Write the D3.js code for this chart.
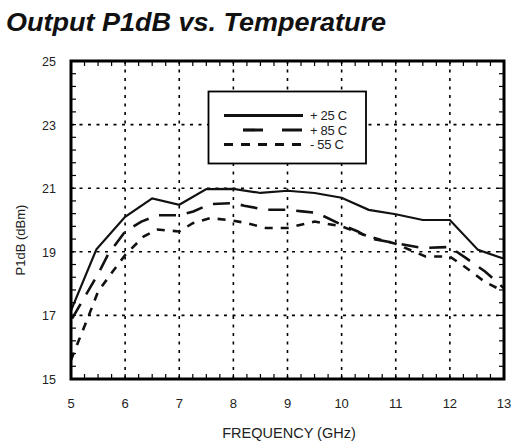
<!DOCTYPE html>
<html><head><meta charset="utf-8">
<script src="https://cdn.jsdelivr.net/npm/d3@7"></script>
<style>body{margin:0;background:#fff}svg{display:block}text{font-family:"Liberation Sans",Arial,sans-serif;fill:#222}</style>
</head><body>
<script>
const title = "Output P1dB vs. Temperature";
const xLabel = "FREQUENCY (GHz)";
const yLabel = "P1dB (dBm)";
const xTicks = [5,6,7,8,9,10,11,12,13];
const yTicks = [15,17,19,21,23,25];
const seriesNames = ["+ 25 C","+ 85 C","- 55 C"];

const freq25 = [5,5.47,6,6.5,7,7.5,8,8.5,9,9.5,10,10.5,11,11.5,12,12.52,13];
const p25    = [17.15,19.08,20.1,20.68,20.48,20.97,20.98,20.85,20.92,20.85,20.7,20.32,20.18,20.0,20.0,19.06,18.78];

const freq85 = [5.02,5.5,5.68,6,6.3,6.6,7,7.26,7.57,8,8.2,8.6,9,9.27,9.55,10,10.3,10.5,11,11.5,12,12.3,12.65,13];
const p85    = [16.9,18.3,18.9,19.64,19.95,20.15,20.15,20.27,20.5,20.53,20.45,20.32,20.32,20.27,20.22,19.85,19.64,19.43,19.27,19.12,19.15,18.8,18.38,17.85];

const freq55 = [5,5.32,5.5,5.75,6,6.34,6.6,7,7.25,7.57,8,8.25,8.6,9,9.5,10,10.5,11,11.55,12,12.3,12.65,13];
const p55    = [15.6,16.96,17.75,18.33,18.9,19.48,19.7,19.64,19.9,20.06,19.98,19.9,19.75,19.75,19.95,19.8,19.48,19.25,18.85,18.85,18.5,18.05,17.75];

const W=515,H=444;
const svg=d3.select("body").append("svg").attr("width",W).attr("height",H);
const x=d3.scaleLinear().domain([5,13]).range([71,504]);
const y=d3.scaleLinear().domain([15,25]).range([379,61]);

svg.append("text").attr("x",6).attr("y",31).attr("font-size",25).attr("font-weight","bold")
  .attr("font-style","italic").attr("textLength",380).attr("lengthAdjust","spacingAndGlyphs")
  .style("fill","#111").text(title);

// grid
const g=svg.append("g");
g.selectAll(".gx").data(xTicks.slice(1,-1)).join("line")
 .attr("x1",d=>x(d)).attr("x2",d=>x(d)).attr("y1",y(25)).attr("y2",y(15))
 .attr("stroke","#000").attr("stroke-width",1.6).attr("stroke-dasharray","3,5.5");
g.selectAll(".gy").data(yTicks.slice(1,-1)).join("line")
 .attr("y1",d=>y(d)).attr("y2",d=>y(d)).attr("x1",x(5)).attr("x2",x(13))
 .attr("stroke","#000").attr("stroke-width",1.6).attr("stroke-dasharray","3,5.5");

// minor ticks
const xMinor=d3.range(5,13.001,0.25), yMinor=d3.range(15,25.001,0.4);
const tl=5;
g.selectAll(".tb").data(xMinor).join("line").attr("x1",d=>x(d)).attr("x2",d=>x(d))
 .attr("y1",y(15)).attr("y2",y(15)-tl).attr("stroke","#000").attr("stroke-width",1.2);
g.selectAll(".tt").data(xMinor).join("line").attr("x1",d=>x(d)).attr("x2",d=>x(d))
 .attr("y1",y(25)).attr("y2",y(25)+tl).attr("stroke","#000").attr("stroke-width",1.2);
g.selectAll(".tlft").data(yMinor).join("line").attr("y1",d=>y(d)).attr("y2",d=>y(d))
 .attr("x1",x(5)).attr("x2",x(5)+tl).attr("stroke","#000").attr("stroke-width",1.2);
g.selectAll(".trt").data(yMinor).join("line").attr("y1",d=>y(d)).attr("y2",d=>y(d))
 .attr("x1",x(13)).attr("x2",x(13)-tl).attr("stroke","#000").attr("stroke-width",1.2);

// series
const line=d3.line().x(d=>x(d[0])).y(d=>y(d[1]));
const series=[
 {pts:d3.zip(freq25,p25),dash:null,w:2.2},
 {pts:d3.zip(freq85,p85),dash:"17,11",w:2.6},
 {pts:d3.zip(freq55,p55),dash:"8,8",w:2.6}
];
svg.selectAll(".s").data(series).join("path").attr("d",d=>line(d.pts)).attr("fill","none")
 .attr("stroke","#111").attr("stroke-width",d=>d.w).attr("stroke-dasharray",d=>d.dash);

// frame
svg.append("rect").attr("x",x(5)).attr("y",y(25)).attr("width",x(13)-x(5)).attr("height",y(15)-y(25))
 .attr("fill","none").attr("stroke","#000").attr("stroke-width",3);

// axes labels
svg.selectAll(".xl").data(xTicks).join("text").attr("x",d=>x(d)).attr("y",408).attr("text-anchor","middle")
 .attr("font-size",13).text(d=>d);
svg.selectAll(".yl").data(yTicks).join("text").attr("x",56).attr("y",d=>y(d)+5).attr("text-anchor","end")
 .attr("font-size",12.5).text(d=>d);
svg.append("text").attr("x",289).attr("y",438).attr("text-anchor","middle").attr("font-size",14.5).text(xLabel);
svg.append("text").attr("transform","translate(25,240) rotate(-90)").attr("text-anchor","middle")
 .attr("font-size",13).text(yLabel);

// legend
const lg=svg.append("g");
lg.append("rect").attr("x",208.5).attr("y",91.5).attr("width",157.5).attr("height",72)
 .attr("fill","#fff").attr("stroke","#000").attr("stroke-width",1.8);
const ly=[115.5,130,144.5];
lg.selectAll(".ll").data(series).join("line").attr("x1",224).attr("x2",303)
 .attr("y1",(d,i)=>ly[i]).attr("y2",(d,i)=>ly[i]).attr("stroke","#111")
 .attr("stroke-width",(d,i)=>i==0?3:3.2).attr("stroke-dasharray",(d,i)=>i==1?"20,19":i==2?"9,8":null)
 .attr("stroke-dashoffset",(d,i)=>i==1?20:0);
lg.selectAll(".lt").data(seriesNames).join("text").attr("x",310).attr("y",(d,i)=>ly[i]+4.5)
 .attr("font-size",13).attr("letter-spacing",-0.3).text(d=>d);
</script>
</body></html>
